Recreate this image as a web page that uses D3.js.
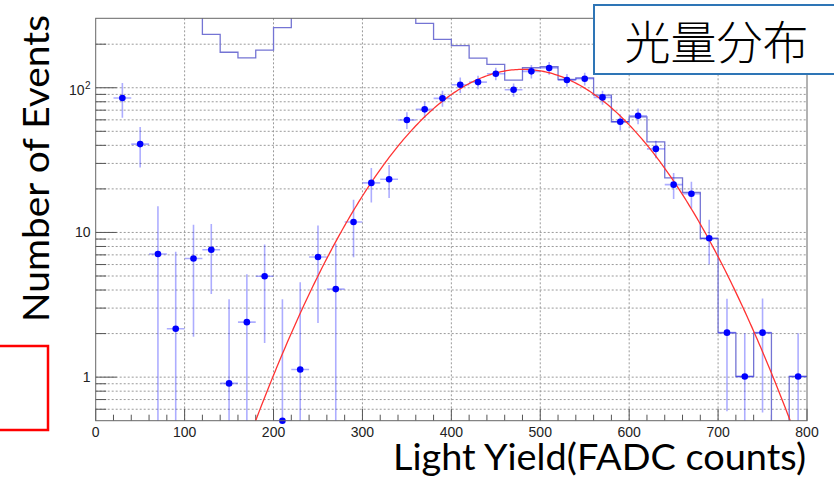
<!DOCTYPE html>
<html>
<head>
<meta charset="utf-8">
<script src="https://d3js.org/d3.v7.min.js"></script>
<style>
    body { margin: 0; background: #fff; }
    svg { display: block; }
</style>
</head>
<body>
<div id="chart"></div>
<script>
// Bin centres of the measured points (bin width 20)
const binCenters = [10, 30, 50, 70, 90, 110, 130, 150, 170, 190,
                    210, 230, 250, 270, 290, 310, 330, 350, 370, 390,
                    410, 430, 450, 470, 490, 510, 530, 550, 570, 590,
                    610, 630, 650, 670, 690, 710, 730, 750, 770, 790];

// Data points (null = empty bin)
const pointValues = [null, 85, 40.8, 7.1, 2.16, 6.6, 7.6, 0.905, 2.40, 4.98,
                     0.5, 1.13, 6.77, 4.06, 11.8, 22.0, 23.3, 59.8, 70.9, 84.5,
                     104.9, 109.4, 125, 96.9, 129.8, 136.8, 113, 115.4, 85.8, 58.2,
                     64.0, 37.8, 21.4, 18.5, 9.12, 2.03, 1.01, 2.03, null, 1.01];

// Symmetric y errors of the points
const pointErrors = [null, 23, 12.7, 8.1, 5.2, 4.7, 3.85, 2.55, 2.74, 3.26,
                     2.95, 3.4, 4.4, 4.3, 5.05, 5.9, 6.0, 8.0, 9.1, 10.7,
                     13, 11.7, 12.5, 10.3, 13.8, 13.8, 11.4, 11.7, 9.5, 7.5,
                     8.0, 5.2, 4.4, 3.9, 3.1, 1.45, 1.0, 1.46, null, 1.0];

// Outline histogram, one value per bin (values above 300 are off the top of the frame)
const histValues = [3000, 2500, 1500, 900, 600, 400, 234, 176, 161, 182,
                    260, 340, 380, 420, 450, 470, 460, 440, 279, 216,
                    195.5, 160, 145, 113, 137.5, 139.7, 114, 117, 89, 58.2,
                    63, 42.3, 23.8, 18.9, 9.08, 2.02, 1.01, 2.02, 0, 1.01];

// Gaussian fit
const fitConstant = 134;
const fitMean = 480.5;
const fitSigma = 89.9;

// Axis ticks
const xMajorTicks = [0, 100, 200, 300, 400, 500, 600, 700, 800];
const xMinorTicks = [20, 40, 60, 80, 120, 140, 160, 180, 220, 240, 260, 280, 320, 340, 360, 380,
                     420, 440, 460, 480, 520, 540, 560, 580, 620, 640, 660, 680, 720, 740, 760, 780];
const yMajorTicks = [1, 10, 100];
const yMinorTicks = [0.6, 0.7, 0.8, 0.9, 2, 3, 4, 5, 6, 7, 8, 9,
                     20, 30, 40, 50, 60, 70, 80, 90, 200];

const width = 834;
const height = 480;

var svg = d3.select("#chart").append("svg")
    .attr("width", width)
    .attr("height", height);

// Frame corners
var frameLeft = 95.7, frameRight = 807, frameTop = 18.3, frameBottom = 420.7;

var x = d3.scaleLinear().domain([0, 800]).range([frameLeft, frameRight]);
var y = d3.scaleLog().domain([0.5, 302]).range([frameBottom, frameTop]);

svg.append("defs").append("clipPath")
    .attr("id", "frame-clip")
    .append("rect")
    .attr("x", frameLeft)
    .attr("y", frameTop)
    .attr("width", frameRight - frameLeft)
    .attr("height", frameBottom - frameTop);

// Grid lines (dotted)
var grid = svg.append("g")
    .attr("stroke", "#9a9a9a")
    .attr("stroke-width", 1)
    .attr("stroke-dasharray", "2,2");

grid.selectAll("line.gx")
    .data(xMajorTicks.filter(d => d > 0 && d < 800))
    .enter().append("line")
    .attr("class", "gx")
    .attr("x1", d => x(d)).attr("x2", d => x(d))
    .attr("y1", frameTop).attr("y2", frameBottom);

grid.selectAll("line.gy")
    .data(yMajorTicks.concat(yMinorTicks))
    .enter().append("line")
    .attr("class", "gy")
    .attr("x1", frameLeft).attr("x2", frameRight)
    .attr("y1", d => y(d)).attr("y2", d => y(d));

// Tick marks
var ticks = svg.append("g")
    .attr("stroke", "#555")
    .attr("stroke-width", 1);

ticks.selectAll("line.xmaj")
    .data(xMajorTicks)
    .enter().append("line")
    .attr("class", "xmaj")
    .attr("x1", d => x(d)).attr("x2", d => x(d))
    .attr("y1", frameBottom).attr("y2", frameBottom - 12);

ticks.selectAll("line.xmin")
    .data(xMinorTicks)
    .enter().append("line")
    .attr("class", "xmin")
    .attr("x1", d => x(d)).attr("x2", d => x(d))
    .attr("y1", frameBottom).attr("y2", frameBottom - 6);

ticks.selectAll("line.ymaj")
    .data(yMajorTicks)
    .enter().append("line")
    .attr("class", "ymaj")
    .attr("x1", frameLeft).attr("x2", frameLeft + 21)
    .attr("y1", d => y(d)).attr("y2", d => y(d));

ticks.selectAll("line.ymin")
    .data(yMinorTicks)
    .enter().append("line")
    .attr("class", "ymin")
    .attr("x1", frameLeft).attr("x2", frameLeft + 10.5)
    .attr("y1", d => y(d)).attr("y2", d => y(d));

var plot = svg.append("g").attr("clip-path", "url(#frame-clip)");

// Outline histogram
var floorY = frameBottom + 5;
var histPath = d3.path();
binCenters.forEach(function(c, i) {
    var v = histValues[i];
    var yy = v > 0 ? y(v) : floorY;
    if (i == 0) histPath.moveTo(x(c - 10), yy);
    else histPath.lineTo(x(c - 10), yy);
    histPath.lineTo(x(c + 10), yy);
});
plot.append("path")
    .attr("d", histPath.toString())
    .attr("fill", "none")
    .attr("stroke", "#7474d4")
    .attr("stroke-width", 1.3);

// Error bars
var points = binCenters
    .map((c, i) => ({ x: c, v: pointValues[i], e: pointErrors[i] }))
    .filter(d => d.v != null);

var bars = plot.append("g")
    .attr("stroke", "#0000ff")
    .attr("stroke-opacity", 0.32)
    .attr("stroke-width", 1.6);

bars.selectAll("line.ey")
    .data(points)
    .enter().append("line")
    .attr("class", "ey")
    .attr("x1", d => x(d.x)).attr("x2", d => x(d.x))
    .attr("y1", d => y(d.v + d.e))
    .attr("y2", d => d.v - d.e > 0 ? y(d.v - d.e) : floorY);

bars.selectAll("line.ex")
    .data(points)
    .enter().append("line")
    .attr("class", "ex")
    .attr("x1", d => x(d.x - 10)).attr("x2", d => x(d.x + 10))
    .attr("y1", d => y(d.v)).attr("y2", d => y(d.v));

// Gaussian fit curve
var fitX = d3.range(0, 801, 2);
var fitLine = d3.line()
    .defined(d => d[1] > 0.3)
    .x(d => x(d[0]))
    .y(d => y(d[1]));
plot.append("path")
    .datum(fitX.map(t => [t, fitConstant * Math.exp(-0.5 * Math.pow((t - fitMean) / fitSigma, 2))]))
    .attr("d", fitLine)
    .attr("fill", "none")
    .attr("stroke", "#ff3333")
    .attr("stroke-width", 1.3);

// Markers
svg.append("g")
    .selectAll("circle")
    .data(points)
    .enter().append("circle")
    .attr("cx", d => x(d.x))
    .attr("cy", d => y(d.v))
    .attr("r", 3.3)
    .attr("fill", "#0000ff");

// Frame
svg.append("rect")
    .attr("x", frameLeft).attr("y", frameTop)
    .attr("width", frameRight - frameLeft).attr("height", frameBottom - frameTop)
    .attr("fill", "none")
    .attr("stroke", "#666")
    .attr("stroke-width", 1);

// Tick labels
svg.append("g")
    .selectAll("text")
    .data(xMajorTicks)
    .enter().append("text")
    .attr("x", d => x(d))
    .attr("y", frameBottom + 16.5)
    .attr("text-anchor", "middle")
    .attr("font-family", "Liberation Sans, Arial, sans-serif")
    .attr("font-size", 14)
    .attr("fill", "#222")
    .text(d => d);

var yLabels = svg.append("g")
    .attr("font-family", "Liberation Sans, Arial, sans-serif")
    .attr("font-size", 14)
    .attr("fill", "#222");

yLabels.append("text")
    .attr("x", 90.5).attr("y", y(1) + 5)
    .attr("text-anchor", "end")
    .text("1");

yLabels.append("text")
    .attr("x", 90.5).attr("y", y(10) + 5)
    .attr("text-anchor", "end")
    .text("10");

var hundred = yLabels.append("text")
    .attr("x", 69).attr("y", y(100) + 7);
hundred.append("tspan").text("10");
hundred.append("tspan")
    .attr("font-size", 10)
    .attr("dy", -5.5)
    .attr("dx", 0.5)
    .text("2");

// Axis titles
svg.append("text")
    .attr("x", 393)
    .attr("y", 470)
    .attr("font-family", "Lato, Open Sans, sans-serif")
    .attr("font-size", 36)
    .attr("textLength", 413)
    .attr("lengthAdjust", "spacingAndGlyphs")
    .attr("fill", "#000")
    .text("Light Yield(FADC counts)");

svg.append("text")
    .attr("transform", "translate(48.5,168.5) rotate(-90)")
    .attr("text-anchor", "middle")
    .attr("font-family", "Lato, Open Sans, sans-serif")
    .attr("font-size", 37)
    .attr("textLength", 307)
    .attr("lengthAdjust", "spacingAndGlyphs")
    .attr("fill", "#000")
    .text("Number of Events");

// Title box
svg.append("rect")
    .attr("x", 594).attr("y", 5)
    .attr("width", 250).attr("height", 69)
    .attr("fill", "#fff")
    .attr("stroke", "#2e75b6")
    .attr("stroke-width", 2);

svg.append("text")
    .attr("x", 716.5)
    .attr("y", 59)
    .attr("text-anchor", "middle")
    .attr("font-family", "Noto Sans CJK JP, sans-serif")
    .attr("font-weight", 300)
    .attr("font-size", 46)
    .attr("fill", "#000")
    .text("光量分布");

// Red marker box at the left edge
svg.append("rect")
    .attr("x", -5).attr("y", 346)
    .attr("width", 53).attr("height", 84)
    .attr("fill", "none")
    .attr("stroke", "#ff0000")
    .attr("stroke-width", 2.5);
</script>
</body>
</html>
